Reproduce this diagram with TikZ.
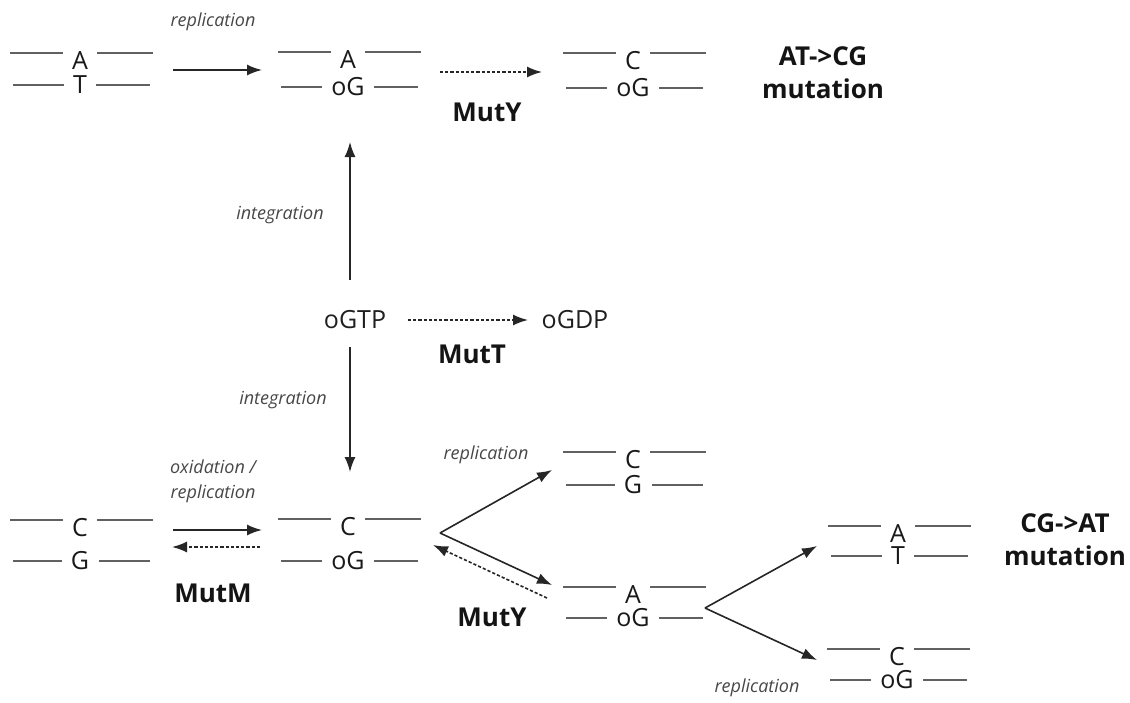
\documentclass[tikz,border=0pt]{standalone}
\usepackage{fontspec}
\setmainfont{Open Sans}
\usetikzlibrary{arrows.meta,calc}

\tikzset{
  base/.style={font=\fontsize{12.5}{12.5}\selectfont, text=black!90, inner xsep=4.5pt, inner ysep=0pt,
    text height=8.9pt, text depth=0pt},
  strand/.style={draw=black!62, line width=1.1pt},
  arr/.style={draw=black!85, line width=0.8pt, -{Latex[length=7.5pt,width=5.5pt]}},
  arrd/.style={arr, dash pattern=on 1.6pt off 1pt},
  lab/.style={font=\fontsize{9}{12.5}\selectfont\itshape, text=black!72, align=center},
  enz/.style={font=\fontsize{13}{16.5}\selectfont\bfseries, text=black!92, align=center},
  mol/.style={font=\fontsize{12.5}{14}\selectfont, text=black!88},
}

% duplex: name, x, top strand y, bottom strand y, top base, bottom base
\newcommand{\duplex}[6]{%
  \node[base] (#1t) at (#2,#3+8) {#5};
  \node[base] (#1b) at (#2,#4) {#6};
  \draw[strand] (#2-70,#3) -- (#1t.west |- 0,#3) (#1t.east |- 0,#3) -- (#2+73,#3);
  \draw[strand] (#2-67,#4) -- (#1b.west) (#1b.east) -- (#2+70,#4);
}

\begin{document}
\begin{tikzpicture}[x=0.5pt,y=-0.5pt]
  \useasboundingbox (0,0) rectangle (1130,702);

  % top row
  \duplex{dat1}{80}{53}{85}{A}{T}
  \duplex{dao1}{348}{52}{87}{A}{oG}
  \duplex{dco1}{633}{53}{88}{C}{oG}
  \node[lab] (rep1) at (213,22) {replication};
  \node[enz] (muty1) at (487,112) {MutY};
  \node[enz] (atcg) at (823,73) {AT->CG\\mutation};

  % middle
  \node[mol] (ogtp) at (355,320) {oGTP};
  \node[mol] (ogdp) at (575,320) {oGDP};
  \node[enz] (mutt) at (472,354) {MutT};
  \node[lab] (int1) at (280,215) {integration};
  \node[lab] (int2) at (283,400) {integration};

  % bottom rows
  \duplex{dcg1}{80}{520}{561}{C}{G}
  \duplex{dco2}{348}{519}{561}{C}{oG}
  \duplex{dcg2}{633}{452}{485}{C}{G}
  \duplex{dao2}{633}{587}{618}{A}{oG}
  \duplex{dat2}{898}{526}{556}{A}{T}
  \duplex{dco3}{897}{649}{680}{C}{oG}
  \node[lab] (oxrep) at (213,481) {oxidation /\\replication};
  \node[enz] (mutm) at (213,593) {MutM};
  \node[lab] (rep2) at (486,455) {replication};
  \node[enz] (muty2) at (492,617) {MutY};
  \node[enz] (cgat) at (1065,540) {CG->AT\\mutation};
  \node[lab] (rep3) at (757,688) {replication};

  % arrow ends
  \coordinate (a1s) at (173,70);   \coordinate (a1e) at (262,70);
  \coordinate (a2s) at (440,72);   \coordinate (a2e) at (542,72);
  \coordinate (ups) at (350,280);  \coordinate (upe) at (350,142);
  \coordinate (mts) at (408,320);  \coordinate (mte) at (528,320);
  \coordinate (dns) at (350,347);  \coordinate (dne) at (350,472);
  \coordinate (mms) at (173,530);  \coordinate (mme) at (262,530);
  \coordinate (mrs) at (260,547);  \coordinate (mre) at (172,547);
  \coordinate (fork1) at (440,533);
  \coordinate (f1u) at (552,470);  \coordinate (f1d) at (552,585);
  \coordinate (mys) at (547,598);  \coordinate (mye) at (433,545);
  \coordinate (fork2) at (705,608);
  \coordinate (f2u) at (817,546);  \coordinate (f2d) at (817,660);

  \draw[arr] (a1s) -- (a1e);
  \draw[arrd] (a2s) -- (a2e);
  \draw[arr] (ups) -- (upe);
  \draw[arrd] (mts) -- (mte);
  \draw[arr] (dns) -- (dne);
  \draw[arr] (mms) -- (mme);
  \draw[arrd] (mrs) -- (mre);
  \draw[arr] (fork1) -- (f1u);
  \draw[arr] (fork1) -- (f1d);
  \draw[arrd] (mys) -- (mye);
  \draw[arr] (fork2) -- (f2u);
  \draw[arr] (fork2) -- (f2d);
\end{tikzpicture}
\end{document}
